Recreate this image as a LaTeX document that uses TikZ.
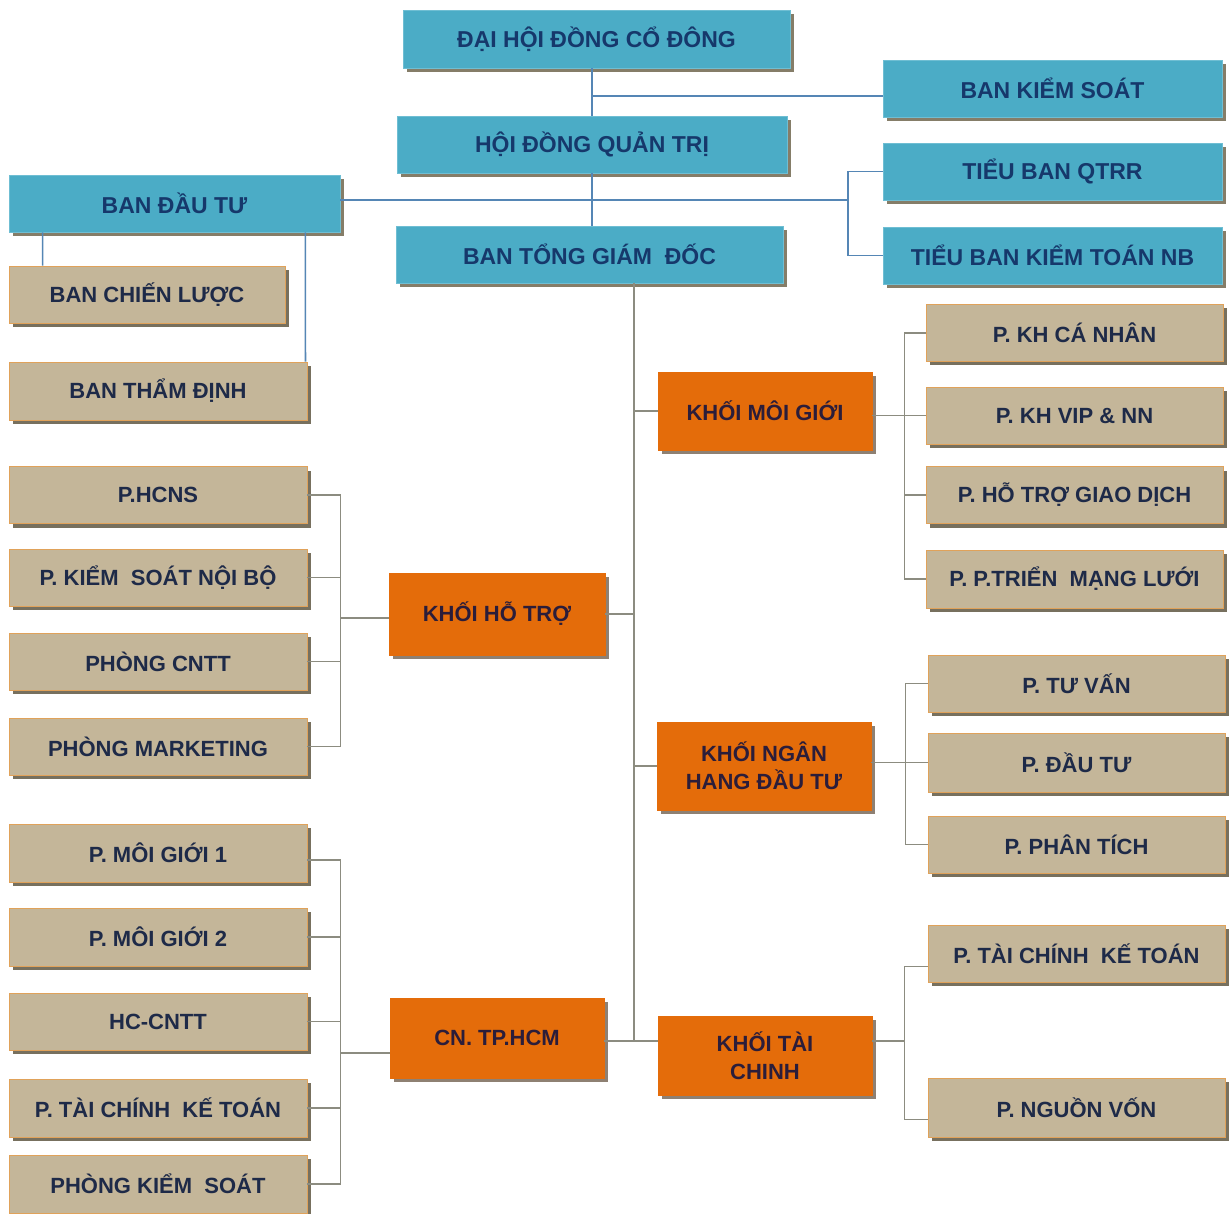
\documentclass[tikz,border=0pt]{standalone}
\usepackage{fontspec}
\setmainfont{Liberation Sans}
\usetikzlibrary{shadows,calc}
\definecolor{bluefill}{HTML}{4BACC6}
\definecolor{blueedge}{HTML}{6FBED3}
\definecolor{blueshadow}{HTML}{857D68}
\definecolor{bluetext}{HTML}{16386B}
\definecolor{beigefill}{HTML}{C4B699}
\definecolor{beigeedge}{HTML}{E0A25A}
\definecolor{beigeshadow}{HTML}{77705E}
\definecolor{beigetext}{HTML}{1E2A48}
\definecolor{orangefill}{HTML}{E46C0A}
\definecolor{orangeshadow}{HTML}{8E8072}
\definecolor{orangetext}{HTML}{2B1D3A}
\definecolor{lineblue}{HTML}{5586B5}
\definecolor{linegray}{HTML}{8C8C80}
\begin{document}
\begin{tikzpicture}[x=1pt,y=-1pt,
  sz/.style 2 args={minimum width=#1pt, minimum height=#2pt},
  box/.style={rectangle, inner sep=0pt, align=center},
  bluebox/.style={box, fill=bluefill, draw=blueedge, line width=0.8pt, text=bluetext,
    font=\bfseries\fontsize{23}{28}\selectfont,
    drop shadow={shadow xshift=4pt, shadow yshift=-4pt, fill=blueshadow, opacity=1}},
  beigebox/.style={box, fill=beigefill, draw=beigeedge, line width=0.9pt, text=beigetext,
    font=\bfseries\fontsize{22}{28}\selectfont,
    drop shadow={shadow xshift=4pt, shadow yshift=-4pt, fill=beigeshadow, opacity=1}},
  orangebox/.style={box, fill=orangefill, draw=orangefill, line width=0.5pt, text=orangetext,
    font=\bfseries\fontsize{22}{28}\selectfont,
    drop shadow={shadow xshift=4pt, shadow yshift=-4pt, fill=orangeshadow, opacity=1}},
  bl/.style={draw=lineblue, line width=1.6pt},
  gl/.style={draw=linegray, line width=1.6pt},
]
\fill[white] (0,0) rectangle (1229,1214);
\useasboundingbox (0,0) rectangle (1229,1214);

% connectors (drawn first, under boxes)
\coordinate (jk) at (592,96);
\coordinate (hb) at (848,200);
\coordinate (mv) at (634,1041);

% top blue boxes
\node[bluebox, sz={387}{58}] (dhcd) at (596.5,39) {ĐẠI HỘI ĐỒNG CỔ ĐÔNG};
\node[bluebox, sz={339}{57}] (bks) at (1052.5,88.5) {BAN KIỂM SOÁT};
\node[bluebox, sz={390}{57}] (hdqt) at (592,144.5) {HỘI ĐỒNG QUẢN TRỊ};
\node[bluebox, sz={339}{57}] (qtrr) at (1052.5,171.5) {TIỂU BAN QTRR};
\node[bluebox, sz={339}{57}] (ktnb) at (1052.5,255.5) {TIỂU BAN KIỂM TOÁN NB};
\node[bluebox, sz={331}{57}] (bdt) at (174.5,203.5) {BAN ĐẦU TƯ};
\node[bluebox, sz={387}{57}] (btgd) at (589.5,254.5) {BAN TỔNG GIÁM\ \ ĐỐC};

% beige left
\node[beigebox, sz={276}{57}] (bcl) at (147,294.5) {BAN CHIẾN LƯỢC};
\node[beigebox, sz={298}{58}] (btd) at (158,391) {BAN THẨM ĐỊNH};
\node[beigebox, sz={298}{57}] (hcns) at (158,495) {P.HCNS};
\node[beigebox, sz={298}{57}] (ksnb) at (158,577.5) {P. KIỂM\ \ SOÁT NỘI BỘ};
\node[beigebox, sz={298}{57}] (cntt) at (158,661.5) {PHÒNG CNTT};
\node[beigebox, sz={298}{57}] (mkt) at (158,746.5) {PHÒNG MARKETING};
\node[beigebox, sz={298}{58}] (mg1) at (158,853) {P. MÔI GIỚI 1};
\node[beigebox, sz={298}{58}] (mg2) at (158,937) {P. MÔI GIỚI 2};
\node[beigebox, sz={298}{57}] (hccntt) at (158,1021.5) {HC-CNTT};
\node[beigebox, sz={298}{58}] (tckt1) at (158,1108) {P. TÀI CHÍNH\ \ KẾ TOÁN};
\node[beigebox, sz={298}{58}] (pks) at (158,1184) {PHÒNG KIỂM\ \ SOÁT};

% orange
\node[orangebox, sz={216}{82}] (kht) at (497,614) {KHỐI HỖ TRỢ};
\node[orangebox, sz={214}{80}] (cn) at (497,1038) {CN. TP.HCM};
\node[orangebox, sz={214}{78}] (kmg) at (765,411) {KHỐI MÔI GIỚI};
\node[orangebox, sz={214}{88}] (knh) at (764,766) {KHỐI NGÂN\\HANG ĐẦU TƯ};
\node[orangebox, sz={214}{79}] (ktc) at (765,1055.5) {KHỐI TÀI\\CHINH};

% beige right
\node[beigebox, sz={297}{57}] (khcn) at (1074.5,333) {P. KH CÁ NHÂN};
\node[beigebox, sz={297}{57}] (vip) at (1074.5,415.5) {P. KH VIP \& NN};
\node[beigebox, sz={297}{57}] (htgd) at (1074.5,495) {P. HỖ TRỢ GIAO DỊCH};
\node[beigebox, sz={297}{58}] (ptml) at (1074.5,579) {P. P.TRIỂN\ \ MẠNG LƯỚI};
\node[beigebox, sz={297}{57}] (tv) at (1076.5,683.5) {P. TƯ VẤN};
\node[beigebox, sz={297}{59}] (dt) at (1076.5,762.5) {P. ĐẦU TƯ};
\node[beigebox, sz={297}{57}] (pt) at (1076.5,844.5) {P. PHÂN TÍCH};
\node[beigebox, sz={297}{57}] (tckt2) at (1076.5,953.5) {P. TÀI CHÍNH\ \ KẾ TOÁN};
\node[beigebox, sz={297}{59}] (nv) at (1076.5,1107.5) {P. NGUỒN VỐN};

% blue connectors
\draw[bl] (hdqt.north |- dhcd.south) -- (hdqt.north);
\draw[bl] (jk) -- (jk -| bks.west);
\draw[bl] (hdqt.south) -- (hdqt.south |- btgd.north);
\draw[bl] (bdt.east |- hb) -- (hb);
\draw[bl] (qtrr.west) -| (hb) |- (ktnb.west);
\draw[bl] ([xshift=34pt]bdt.south west) -- ([xshift=34pt]bcl.north west);
\draw[bl] ([xshift=-35pt]bdt.south east) -- ([xshift=-2pt]btd.north east);

% main vertical and branches
\draw[gl] (mv |- btgd.south) -- (mv);
\draw[gl] (kmg.west) -- (kmg.west -| mv);
\draw[gl] (kht.east) -- (kht.east -| mv);
\draw[gl] (knh.west) -- (knh.west -| mv);
\draw[gl] (cn.east |- mv) -- (ktc.west |- mv);

% right brackets
\draw[gl] (khcn.west) -- ++(-21,0) |- (ptml.west);
\draw[gl] (vip.west) -- (kmg.east |- vip.west);
\draw[gl] (htgd.west) -- ++(-21,0);
\draw[gl] (tv.west) -- ++(-22,0) |- (pt.west);
\draw[gl] (dt.west) -- (knh.east |- dt.west);
\draw[gl] ([yshift=-13pt]tckt2.west) -- ++(-23,0) |- ([yshift=-12pt]nv.west);
\draw[gl] (ktc.east |- mv) -- ++(33,0);

% left brackets
\draw[gl] (hcns.east) -- ++(33,0) |- (mkt.east);
\draw[gl] (ksnb.east) -- ++(33,0);
\draw[gl] (cntt.east) -- ++(33,0);
\draw[gl] ([yshift=-4pt]kht.west) -- ++(-49,0);
\draw[gl] ([yshift=-7pt]mg1.east) -- ++(33,0) |- (pks.east);
\draw[gl] (mg2.east) -- ++(33,0);
\draw[gl] (hccntt.east) -- ++(33,0);
\draw[gl] (tckt1.east) -- ++(33,0);
\draw[gl] ([yshift=-15pt]cn.west) -- ++(-50,0);
\end{tikzpicture}
\end{document}
